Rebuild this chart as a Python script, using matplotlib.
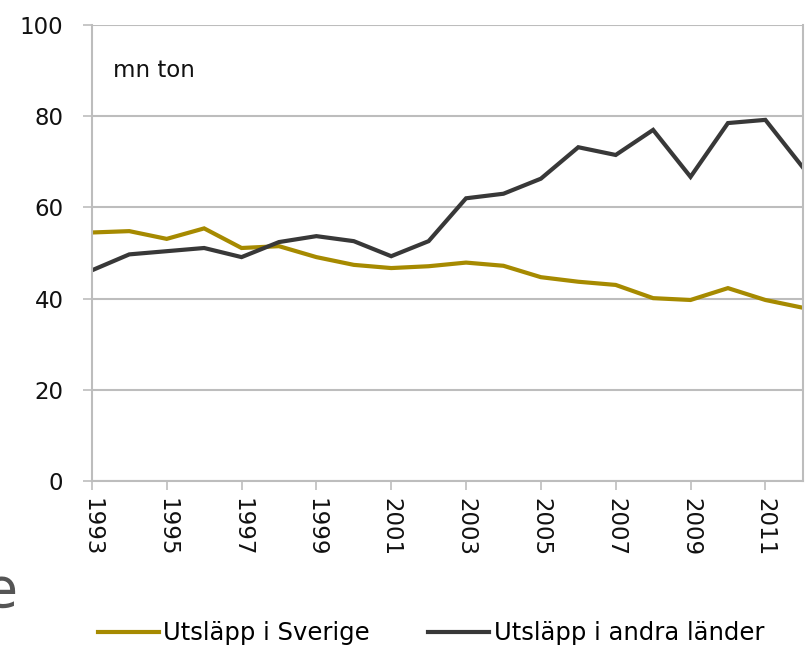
import matplotlib.pyplot as plt

# data
years = list(range(1993, 2013))
sverige = [54.5, 54.8, 53.1, 55.4, 51.1, 51.5, 49.1, 47.4, 46.7, 47.1,
           47.9, 47.2, 44.7, 43.7, 43.0, 40.1, 39.7, 42.3, 39.7, 38.0]
andra = [46.2, 49.7, 50.4, 51.1, 49.1, 52.4, 53.7, 52.6, 49.3, 52.6,
         62.0, 63.0, 66.3, 73.2, 71.5, 77.0, 66.7, 78.5, 79.2, 68.8]
xtick_years = list(range(1993, 2012, 2))
yticks = [0, 20, 40, 60, 80, 100]

gold = '#a68a00'
dark = '#383838'
grid = '#bdbdbd'

plt.rcParams['font.family'] = 'DejaVu Sans'
fig = plt.figure(figsize=(8.06, 6.5), dpi=100)
ax = fig.add_axes([0.114, 0.26, 0.882, 0.7015])

ax.plot(years, sverige, color=gold, lw=3.0, label='Utsläpp i Sverige', solid_joinstyle='miter')
ax.plot(years, andra, color=dark, lw=3.0, label='Utsläpp i andra länder', solid_joinstyle='miter')

ax.set_xlim(1993, 2012)
ax.set_ylim(0, 100)
ax.set_yticks(yticks)
ax.set_xticks(xtick_years)
ax.set_xticklabels([str(y) for y in xtick_years], rotation=-90, fontsize=16.5, color='#111111')
ax.tick_params(axis='y', length=6.5, width=1.2, color=grid, pad=14, labelsize=16.5, labelcolor='#111111')
ax.tick_params(axis='x', length=6.5, width=1.2, color=grid, pad=6)
ax.yaxis.grid(True, color=grid, lw=1.5)
ax.set_axisbelow(True)
for s in ax.spines.values():
    s.set_color(grid)
    s.set_linewidth(1.5)
ax.spines['top'].set_visible(False)

ax.text(0.03, 0.9, 'mn ton', transform=ax.transAxes, fontsize=16.5, color='#111111', va='center')

fig.legend(loc='center', bbox_to_anchor=(0.535, 0.026), ncol=2, frameon=False,
           fontsize=17.5, handlelength=2.5, handletextpad=0.2, columnspacing=2.4)

# stray fragment of surrounding page text at the left edge
fig.text(-0.02, 0.066, 'e', fontsize=40, color='#555555')

fig.savefig('out.png', dpi=100)
